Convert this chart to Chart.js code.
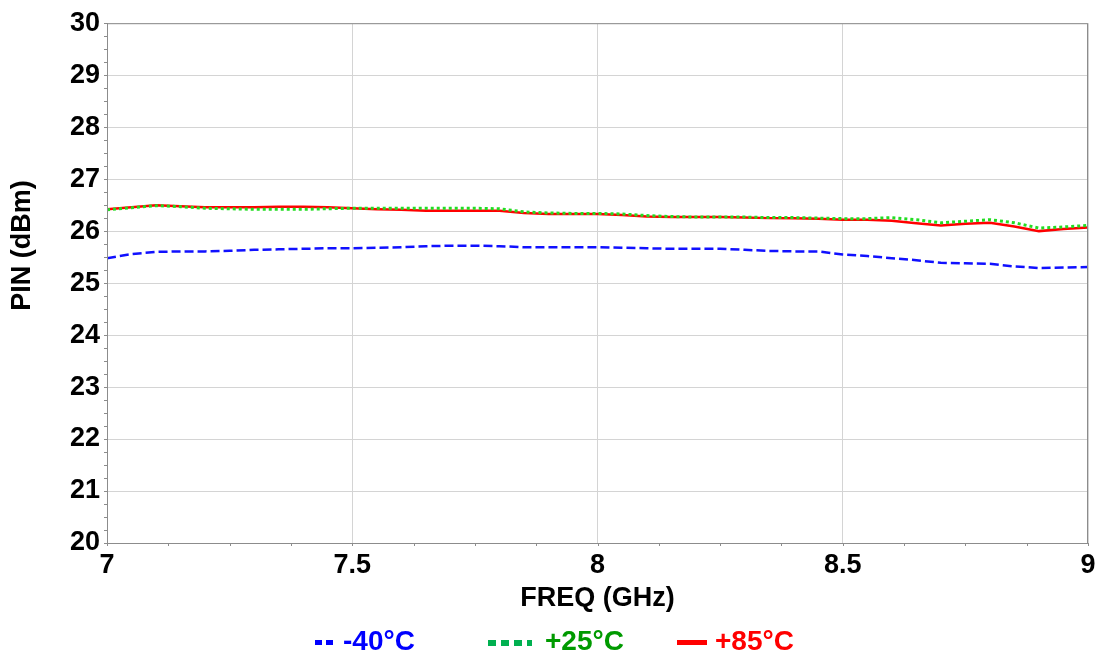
<!DOCTYPE html>
<html lang="en">
<head>
    <meta charset="UTF-8">
    <title>PIN vs FREQ</title>
    <style>
        body {
            margin: 0;
            background-color: #ffffff;
            font-family: "Liberation Sans", Arial, sans-serif;
        }
        #wrap {
            position: relative;
            width: 1097px;
            height: 659px;
        }
        .legend-item {
            position: absolute;
            top: 624px;
            font-size: 28px;
            font-weight: bold;
            line-height: 34px;
            white-space: nowrap;
        }
        .sym {
            position: absolute;
            top: 640px;
            height: 5px;
        }
    </style>
</head>
<body>
    <div id="wrap">
        <canvas id="pinChart" width="1097" height="659"></canvas>
        <span class="sym" style="left:315px;width:18px;background:repeating-linear-gradient(90deg,#0000ff 0 7px,transparent 7px 11px);"></span>
        <span class="legend-item" style="left:343px;color:#0000ff;">-40°C</span>
        <span class="sym" style="left:488px;width:44px;height:6px;background:repeating-linear-gradient(90deg,#00b050 0 8px,transparent 8px 13px);"></span>
        <span class="legend-item" style="left:545px;color:#009a00;">+25°C</span>
        <span class="sym" style="left:677px;width:30px;background:#ff0000;"></span>
        <span class="legend-item" style="left:715px;color:#ff0000;">+85°C</span>
    </div>

    <script src="https://cdn.jsdelivr.net/npm/chart.js"></script>
    <script>
        const freq = [7.00, 7.05, 7.10, 7.15, 7.20, 7.25, 7.30, 7.35, 7.40, 7.45,
                      7.50, 7.55, 7.60, 7.65, 7.70, 7.75, 7.80, 7.85, 7.90, 7.95,
                      8.00, 8.05, 8.10, 8.15, 8.20, 8.25, 8.30, 8.35, 8.40, 8.45,
                      8.50, 8.55, 8.60, 8.65, 8.70, 8.75, 8.80, 8.85, 8.90, 8.95, 9.00];

        const pinM40 = [25.48, 25.56, 25.60, 25.61, 25.61, 25.62, 25.64, 25.65, 25.66, 25.67,
                        25.67, 25.68, 25.69, 25.71, 25.72, 25.72, 25.71, 25.69, 25.69, 25.69,
                        25.69, 25.68, 25.67, 25.66, 25.66, 25.66, 25.64, 25.62, 25.61, 25.61,
                        25.55, 25.52, 25.48, 25.44, 25.39, 25.38, 25.37, 25.32, 25.29, 25.30, 25.31];

        const pinP25 = [26.41, 26.45, 26.49, 26.47, 26.44, 26.43, 26.42, 26.42, 26.42, 26.43,
                        26.44, 26.44, 26.44, 26.44, 26.44, 26.44, 26.43, 26.37, 26.35, 26.34,
                        26.34, 26.33, 26.30, 26.28, 26.27, 26.27, 26.27, 26.26, 26.26, 26.25,
                        26.24, 26.24, 26.26, 26.22, 26.16, 26.19, 26.22, 26.16, 26.06, 26.08, 26.11];

        const pinP85 = [26.42, 26.46, 26.50, 26.48, 26.46, 26.46, 26.46, 26.47, 26.47, 26.46,
                        26.44, 26.42, 26.41, 26.39, 26.39, 26.39, 26.39, 26.35, 26.33, 26.33,
                        26.33, 26.31, 26.28, 26.27, 26.27, 26.27, 26.26, 26.25, 26.25, 26.24,
                        26.22, 26.22, 26.20, 26.15, 26.11, 26.14, 26.16, 26.09, 26.00, 26.04, 26.07];

        const toPoints = (ys) => freq.map((f, i) => ({ x: f, y: ys[i] }));

        const boldFont = (size) => ({ family: "'Liberation Sans', Arial, sans-serif", size: size, weight: 'bold' });

        // frame + small minor ticks
        const framePlugin = {
            id: 'frame',
            afterDraw(chart) {
                const { ctx, chartArea: a, scales } = chart;
                ctx.save();
                ctx.strokeStyle = '#8c8c8c';
                ctx.lineWidth = 1;
                ctx.strokeRect(a.left + 0.5, a.top + 0.5, a.right - a.left - 1, a.bottom - a.top);
                ctx.beginPath();
                for (let v = 7; v <= 9.0001; v += 0.125) {
                    const px = Math.round(scales.x.getPixelForValue(v)) + 0.5;
                    ctx.moveTo(px, a.bottom);
                    ctx.lineTo(px, a.bottom + 3);
                }
                for (let v = 20; v <= 30.0001; v += 0.25) {
                    const py = Math.round(scales.y.getPixelForValue(v)) + 0.5;
                    ctx.moveTo(a.left, py);
                    ctx.lineTo(a.left - 3, py);
                }
                ctx.stroke();
                ctx.restore();
            }
        };

        new Chart(document.getElementById('pinChart').getContext('2d'), {
            type: 'line',
            data: {
                datasets: [
                    {
                        label: '-40°C',
                        data: toPoints(pinM40),
                        borderColor: '#1010ff',
                        borderWidth: 2.5,
                        borderDash: [9, 4],
                        pointRadius: 0
                    },
                    {
                        label: '+25°C',
                        data: toPoints(pinP25),
                        borderColor: '#22dd22',
                        borderWidth: 3,
                        borderDash: [3, 3],
                        pointRadius: 0
                    },
                    {
                        label: '+85°C',
                        data: toPoints(pinP85),
                        borderColor: '#ff0000',
                        borderWidth: 2.5,
                        pointRadius: 0
                    }
                ]
            },
            options: {
                responsive: false,
                animation: false,
                layout: { padding: { top: 19, right: 9, left: 0, bottom: 44 } },
                plugins: {
                    legend: { display: false },
                    tooltip: { enabled: false }
                },
                scales: {
                    x: {
                        type: 'linear',
                        min: 7,
                        max: 9,
                        ticks: {
                            stepSize: 0.5, padding: 6, color: '#000', font: boldFont(27), maxRotation: 0,
                            callback: (v) => String(v)
                        },
                        grid: { color: '#d4d4d4', drawTicks: false },
                        border: { color: '#8c8c8c' },
                        title: {
                            display: true,
                            text: 'FREQ (GHz)',
                            color: '#000',
                            font: boldFont(27),
                            padding: { top: 0, bottom: 0 }
                        },
                        afterFit(scale) {
                            scale.height = 72;
                            scale.paddingLeft = 0;
                            scale.paddingRight = 0;
                        }
                    },
                    y: {
                        min: 20,
                        max: 30,
                        ticks: { stepSize: 1, padding: 7, color: '#000', font: boldFont(27) },
                        grid: { color: '#d4d4d4', drawTicks: false },
                        border: { color: '#8c8c8c' },
                        title: {
                            display: true,
                            // leading spaces lift the title a little, as in the original
                            text: '          PIN (dBm)',
                            color: '#000',
                            font: boldFont(27),
                            padding: { top: 6, bottom: 0 }
                        },
                        afterFit(scale) { scale.width = 107; }
                    }
                }
            },
            plugins: [framePlugin]
        });
    </script>
</body>
</html>
